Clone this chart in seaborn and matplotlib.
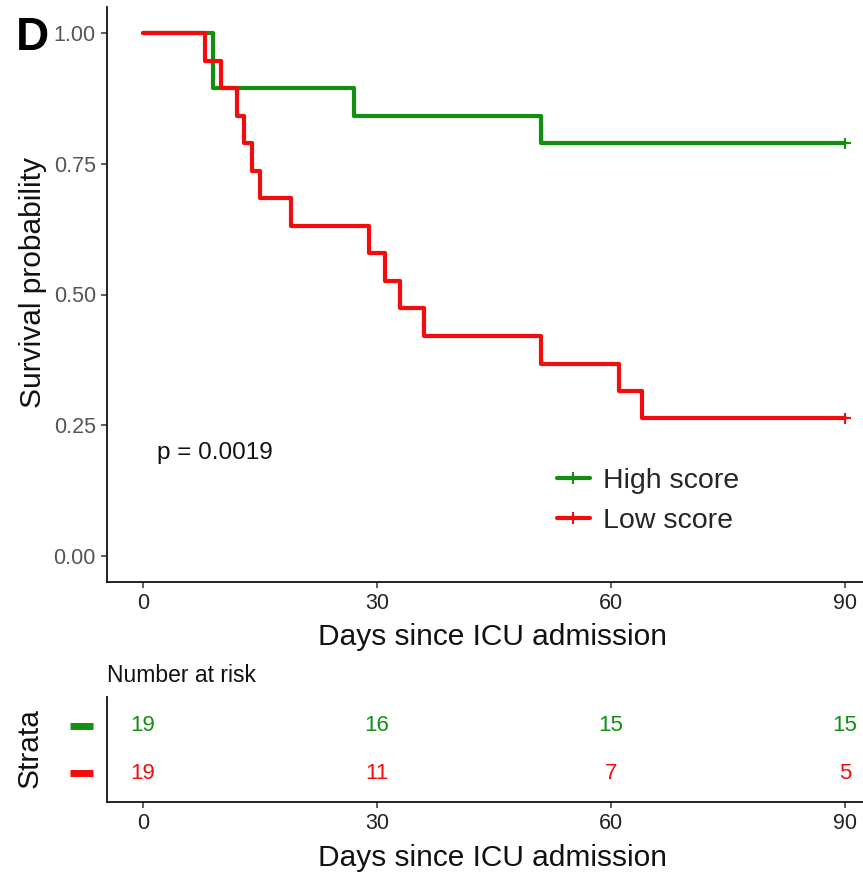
import numpy as np
import pandas as pd
import matplotlib
matplotlib.use("Agg")
import matplotlib.pyplot as plt
from matplotlib.lines import Line2D
from matplotlib.transforms import blended_transform_factory
import seaborn as sns

# Kaplan-Meier step values per group (days since ICU admission, survival probability)
high_times = [0, 9, 27, 51, 90]
high_surv = [1.000, 0.895, 0.842, 0.789, 0.789]
low_times = [0, 8, 10, 12, 13, 14, 15, 19, 29, 31, 33, 36, 51, 61, 64, 90]
low_surv = [1.000, 0.947, 0.895, 0.842, 0.789, 0.737, 0.684, 0.632,
            0.579, 0.526, 0.474, 0.421, 0.368, 0.316, 0.263, 0.263]

# censored observations at end of follow-up
censor_times = [90, 90]
censor_surv = [0.789, 0.263]
censor_groups = ["High score", "Low score"]

# number at risk table
risk_times = [0, 30, 60, 90]
risk_high = [19, 16, 15, 15]
risk_low = [19, 11, 7, 5]

groups = ["High score", "Low score"]
colors = {"High score": "#11900F", "Low score": "#F40C0C"}
p_text = "p = 0.0019"

sns.set_style("ticks")
plt.rcParams["font.family"] = ["Liberation Sans", "DejaVu Sans"]

curves = pd.concat([
    pd.DataFrame({"time": high_times, "surv": high_surv, "group": "High score"}),
    pd.DataFrame({"time": low_times, "surv": low_surv, "group": "Low score"}),
], ignore_index=True)
censored = pd.DataFrame({"time": censor_times, "surv": censor_surv, "group": censor_groups})

W, H = 863, 875
fig = plt.figure(figsize=(W / 100, H / 100), dpi=100)

def fig_box(left, top, right, bottom):
    return [left / W, 1 - bottom / H, (right - left) / W, (bottom - top) / H]

ax = fig.add_axes(fig_box(107, 7, 863, 582))
ax_risk = fig.add_axes(fig_box(107, 697, 863, 802))

xlim = (-4.6, 92.3)

# survival curves
sns.lineplot(data=curves, x="time", y="surv", hue="group", palette=colors,
             hue_order=groups, estimator=None, sort=False, drawstyle="steps-post",
             linewidth=3.0, legend=False, ax=ax)
sns.scatterplot(data=censored, x="time", y="surv", hue="group", palette=colors,
                hue_order=groups, marker="+", s=70, linewidth=1.5,
                legend=False, ax=ax, zorder=5)

ax.set_xlim(*xlim)
ax.set_ylim(-0.05, 1.05)
ax.set_xticks([0, 30, 60, 90])
ax.set_yticks([0.0, 0.25, 0.5, 0.75, 1.0])
ax.set_yticklabels(["0.00", "0.25", "0.50", "0.75", "1.00"])
sns.despine(ax=ax)
for s in ("left", "bottom"):
    ax.spines[s].set_linewidth(1.3)
    ax.spines[s].set_color("#111111")
ax.tick_params(axis="both", length=4, width=1.1, color="#333333", pad=4)
ax.tick_params(axis="y", labelsize=15.5, labelcolor="#555555")
ax.tick_params(axis="x", labelsize=15.5, labelcolor="#222222")
ax.set_xlabel("Days since ICU admission", fontsize=21.5, color="#111111")
ax.set_ylabel("Survival probability", fontsize=21.5, color="#111111")
ax.xaxis.label.set_va("center")
ax.yaxis.label.set_va("center")
ax.xaxis.set_label_coords((492 - 107) / 756, -(637 - 582) / 575)
ax.yaxis.set_label_coords(-(107 - 33) / 756, (582 - 283) / 575)

ax.text(9.2, 0.197, p_text, ha="center", va="center", fontsize=17.5, color="#111111")

handles = [Line2D([], [], color=colors[g], lw=3.0, marker="+", markersize=9,
                  markeredgewidth=1.5) for g in groups]
ax.legend(handles, groups, loc="center left",
          bbox_to_anchor=((557 - 107) / 756, (582 - 501) / 575),
          frameon=False, fontsize=20.5, handlelength=1.15, handletextpad=0.45,
          labelspacing=0.5, borderpad=0, borderaxespad=0)

# number at risk table
rows = {"High score": 1, "Low score": 0}
for g, counts in (("High score", risk_high), ("Low score", risk_low)):
    for t, n in zip(risk_times, counts):
        ax_risk.text(t, rows[g], str(n), ha="center", va="center",
                     fontsize=16, color=colors[g])
ax_risk.set_xlim(*xlim)
ax_risk.set_ylim(-0.6, 1.6)
ax_risk.set_xticks([0, 30, 60, 90])
ax_risk.set_yticks([])
sns.despine(ax=ax_risk)
for s in ("left", "bottom"):
    ax_risk.spines[s].set_linewidth(1.3)
    ax_risk.spines[s].set_color("#111111")
ax_risk.tick_params(axis="x", length=4, width=1.1, color="#333333", pad=4,
                    labelsize=15.5, labelcolor="#222222")
ax_risk.set_xlabel("Days since ICU admission", fontsize=21.5, color="#111111")
ax_risk.xaxis.label.set_va("center")
ax_risk.xaxis.set_label_coords((492 - 107) / 756, -(858 - 802) / 105)
ax_risk.set_ylabel("Strata", fontsize=21.5, color="#111111")
ax_risk.yaxis.label.set_va("center")
ax_risk.yaxis.set_label_coords(-(107 - 30) / 756, (802 - 748) / 105)
ax_risk.set_title("Number at risk", loc="left", fontsize=16.5, color="#111111", pad=11)

# coloured strata keys beside the table rows
trans = blended_transform_factory(ax_risk.transAxes, ax_risk.transData)
for g in groups:
    ax_risk.plot([-(107 - 70) / 756, -(107 - 93) / 756], [rows[g], rows[g]],
                 transform=trans, color=colors[g], lw=5, solid_capstyle="butt",
                 clip_on=False)

fig.text(32 / W, 1 - 38 / H, "D", fontsize=33, fontweight="bold",
         ha="center", va="center", color="black")

fig.savefig("out.png", dpi=100)
